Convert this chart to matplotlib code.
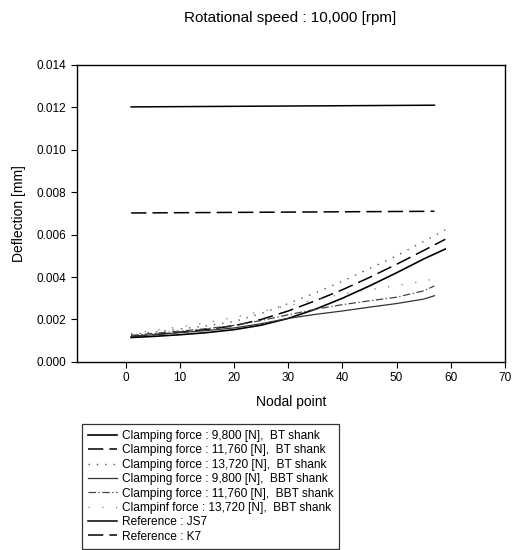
import matplotlib
matplotlib.use("Agg")
import matplotlib.pyplot as plt

plt.rcParams['font.family'] = ['Liberation Sans', 'DejaVu Sans']

nodes_bt = [1, 5, 10, 15, 20, 25, 30, 35, 40, 45, 50, 55, 59]
nodes_bbt = [1, 5, 10, 15, 20, 25, 30, 35, 40, 45, 50, 55, 57]
nodes_ref = [1, 57]

bt_9800 = [0.00115, 0.00120, 0.00128, 0.00138, 0.00152, 0.00173, 0.00205, 0.00248,
           0.00300, 0.00358, 0.00420, 0.00485, 0.00532]
bt_11760 = [0.00120, 0.00128, 0.00140, 0.00153, 0.00170, 0.00200, 0.00240, 0.00288,
            0.00340, 0.00398, 0.00460, 0.00525, 0.00578]
bt_13720 = [0.00130, 0.00140, 0.00155, 0.00170, 0.00190, 0.00228, 0.00275, 0.00325,
            0.00380, 0.00440, 0.00500, 0.00568, 0.00622]
bbt_9800 = [0.00120, 0.00128, 0.00138, 0.00148, 0.00160, 0.00180, 0.00205, 0.00224,
            0.00240, 0.00258, 0.00275, 0.00296, 0.00312]
bbt_11760 = [0.00125, 0.00134, 0.00145, 0.00157, 0.00172, 0.00195, 0.00222, 0.00248,
             0.00270, 0.00288, 0.00305, 0.00335, 0.00358]
bbt_13720 = [0.00132, 0.00148, 0.00165, 0.00185, 0.00210, 0.00238, 0.00265, 0.00292,
             0.00320, 0.00340, 0.00360, 0.00380, 0.00392]
ref_js7 = [0.01202, 0.01210]
ref_k7 = [0.00702, 0.00710]

labels = [
    "Clamping force : 9,800 [N],  BT shank",
    "Clamping force : 11,760 [N],  BT shank",
    "Clamping force : 13,720 [N],  BT shank",
    "Clamping force : 9,800 [N],  BBT shank",
    "Clamping force : 11,760 [N],  BBT shank",
    "Clampinf force : 13,720 [N],  BBT shank",
    "Reference : JS7",
    "Reference : K7",
]

fig = plt.figure(figsize=(5.27, 5.5), dpi=100)
ax = fig.add_axes([0.146, 0.342, 0.812, 0.540])

ax.plot(nodes_bt, bt_9800, color='black', lw=1.2, ls='-', label=labels[0])
ax.plot(nodes_bt, bt_11760, color='black', lw=1.1, ls=(0, (10, 4)), label=labels[1])
ax.plot(nodes_bt, bt_13720, color='#555555', lw=1.0, ls=(0, (1, 5)), label=labels[2])
ax.plot(nodes_bbt, bbt_9800, color='#333333', lw=0.9, ls='-', label=labels[3])
ax.plot(nodes_bbt, bbt_11760, color='#444444', lw=0.9, ls=(0, (6, 2, 1, 2)), label=labels[4])
ax.plot(nodes_bbt, bbt_13720, color='#777777', lw=0.9, ls=(0, (1, 10)), label=labels[5])
ax.plot(nodes_ref, ref_js7, color='black', lw=1.1, ls='-', label=labels[6])
ax.plot(nodes_ref, ref_k7, color='black', lw=1.1, ls=(0, (10, 4)), label=labels[7])

ax.set_xlim(-9, 70)
ax.set_ylim(0, 0.014)
ax.set_xticks([0, 10, 20, 30, 40, 50, 60, 70])
ax.set_yticks([0.000, 0.002, 0.004, 0.006, 0.008, 0.010, 0.012, 0.014])
ax.set_yticklabels([f"{v:.3f}" for v in ax.get_yticks()])
ax.tick_params(direction='out', length=4, labelsize=8.5, width=0.8)
for s in ax.spines.values():
    s.set_linewidth(1.0)

ax.set_xlabel("Nodal point", fontsize=10, labelpad=8)
ax.set_ylabel("Deflection [mm]", fontsize=10, labelpad=8)
fig.text(0.55, 0.967, "Rotational speed : 10,000 [rpm]", ha='center', va='center', fontsize=11)

leg = fig.legend(loc='upper left', bbox_to_anchor=(0.145, 0.240), fontsize=8.6,
                 frameon=True, fancybox=False, edgecolor='black', handlelength=2.4,
                 labelspacing=0.2, borderpad=0.5, handletextpad=0.4)
leg.get_frame().set_linewidth(0.9)

fig.savefig("out.png", dpi=100)
